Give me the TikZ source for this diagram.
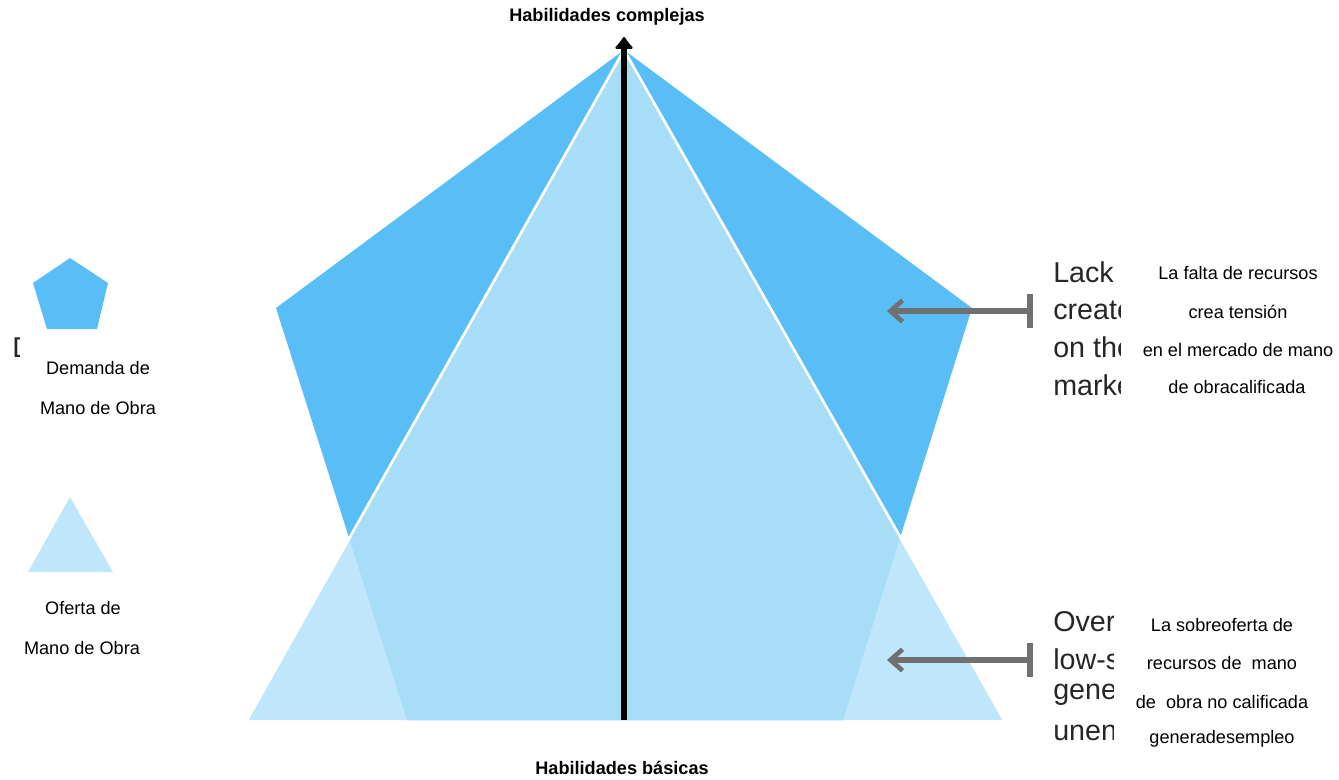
\documentclass[tikz,border=0pt]{standalone}
\usepackage{fontspec}
\setmainfont{Liberation Sans}
\usetikzlibrary{arrows.meta}
\definecolor{dem}{RGB}{90,190,246}
\definecolor{sup}{RGB}{191,230,250}
\definecolor{mid}{RGB}{168,221,248}
\definecolor{arrgray}{RGB}{112,112,112}
\tikzset{
  lbl/.style={inner sep=0pt, font=\fontsize{13.6}{16}\selectfont, anchor=center},
  bold lbl/.style={inner sep=0pt, font=\fontsize{13.6}{16}\selectfont\bfseries, anchor=center},
  eng/.style={inner sep=0pt, font=\fontsize{21.5}{26}\selectfont, anchor=west, text=black!85},
  grayarrow/.style={draw=arrgray, line width=3.8pt, {Bar[width=26pt,line width=4.5pt]}-{Straight Barb[length=9pt,width=16pt,line width=3.5pt]}},
}
\begin{document}
\begin{tikzpicture}[x=0.75pt,y=-0.75pt]
\useasboundingbox (0,0) rectangle (1339,779);
% main shapes
\coordinate (apex) at (624,50);
\coordinate (pl) at (276,308);
\coordinate (pbl) at (407,720);
\coordinate (pbr) at (843,720);
\coordinate (pr) at (972,308);
\coordinate (tl) at (247,720);
\coordinate (tr) at (1004,720);
\fill[dem] (apex)--(pl)--(pbl)--(pbr)--(pr)--cycle;
\fill[sup] (apex)--(tl)--(tr)--cycle;
\begin{scope}
  \clip (apex)--(pl)--(pbl)--(pbr)--(pr)--cycle;
  \fill[mid] (apex)--(tl)--(tr)--cycle;
\end{scope}
\draw[white, line width=2pt] (tl)--(apex)--(tr);
% central axis
\coordinate (abot) at (624,720);
\coordinate (atop) at (624,37);
\draw[line width=5.2pt, -{Latex[round,length=10pt,width=17pt]}] (abot) -- (atop);
\node[bold lbl] (top) at (607,17) {Habilidades complejas};
\node[bold lbl] (bot) at (622,768) {Habilidades básicas};
% legend
\fill[dem] (70,258) -- (33,283) -- (47,329) -- (97,329) -- (108,283) -- cycle;
\fill[sup] (70,497) -- (28,572) -- (113,572) -- cycle;
\begin{scope}
  \clip (8,330) rectangle (19,365);
  \node[eng] (dclip) at (12,348) {D};
\end{scope}
\node[lbl] (d1) at (98,368) {Demanda de};
\node[lbl] (d2) at (98,408) {Mano de Obra};
\node[lbl] (o1) at (83,608) {Oferta de};
\node[lbl] (o2) at (82,648) {Mano de Obra};
% gray arrows
\coordinate (b1) at (1033,311);
\coordinate (t1) at (887,311);
\coordinate (b2) at (1033,660);
\coordinate (t2) at (887,660);
\draw[grayarrow] (b1) -- (t1);
\draw[grayarrow] (b2) -- (t2);
% clipped english text
\begin{scope}
  \clip (1040,240) rectangle (1120,400);
  \node[eng] (e1) at (1053,272) {Lack};
  \node[eng] (e2) at (1053,310) {create};
  \node[eng] (e3) at (1053,347) {on the};
  \node[eng] (e4) at (1053,385) {marke};
\end{scope}
\begin{scope}
  \clip (1040,595) rectangle (1113,755);
  \node[eng] (f1) at (1053,622) {Over};
  \node[eng] (f2) at (1053,659) {low-s};
  \node[eng] (f3) at (1053,695) {gene};
  \node[eng] (f4) at (1053,733) {unen};
\end{scope}
% spanish text
\node[lbl] (s1) at (1238,273) {La falta de recursos};
\node[lbl] (s2) at (1238,312) {crea tensión};
\node[lbl] (s3) at (1238,350) {en el mercado de mano};
\node[lbl] (s4) at (1237,387) {de obracalificada};
\node[lbl] (u1) at (1222,625) {La sobreoferta de};
\node[lbl] (u2) at (1222,663) {recursos de\ \ mano};
\node[lbl] (u3) at (1222,702) {de\ \ obra no calificada};
\node[lbl] (u4) at (1222,739) {generadesempleo};
\end{tikzpicture}
\end{document}
